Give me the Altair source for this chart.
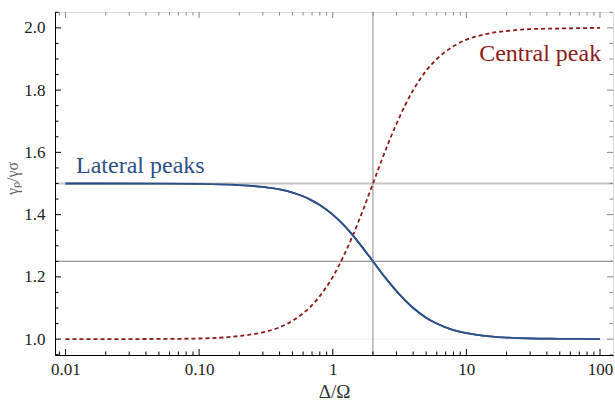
import altair as alt
import pandas as pd

# ---- data ----
x_vals = [0.01, 0.02, 0.05, 0.1, 0.2, 0.3, 0.4, 0.5, 0.6, 0.7, 0.8, 1.0, 1.2, 1.4, 1.7,
          2.0, 2.5, 3.0, 4.0, 5.0, 6.0, 8.0, 10, 12, 15, 20, 30, 50, 100]
lateral = [1.5, 1.5, 1.4997, 1.4988, 1.495, 1.489, 1.481, 1.471, 1.459, 1.445, 1.431,
           1.400, 1.368, 1.336, 1.290, 1.250, 1.195, 1.154, 1.100, 1.069, 1.050, 1.029,
           1.019, 1.0135, 1.009, 1.005, 1.002, 1.001, 1.000]
central = [1.0, 1.0001, 1.0006, 1.002, 1.010, 1.022, 1.038, 1.059, 1.083, 1.109, 1.138,
           1.200, 1.265, 1.329, 1.419, 1.500, 1.610, 1.692, 1.800, 1.862, 1.900, 1.941,
           1.962, 1.973, 1.983, 1.990, 1.996, 1.998, 2.000]

hlines_light = [1.5]
hlines_mid = [1.25]
hlines_faint = [1.0]
vlines = [2.0]

x_major = [0.01, 0.1, 1, 10, 100]
x_minor = [0.009] + [m * d for d in (0.01, 0.1, 1, 10) for m in range(2, 10)]
y_major = [1.0, 1.2, 1.4, 1.6, 1.8, 2.0]
y_minor = [0.95, 1.05, 1.1, 1.15, 1.25, 1.3, 1.35, 1.45, 1.5, 1.55, 1.65, 1.7, 1.75,
           1.85, 1.9, 1.95, 2.05]

labels = ["Lateral peaks", "Central peak"]
label_x = [0.0120, 102]
label_y = [1.534, 1.895]

BLUE = "#2E5089"
RED = "#8E1A1A"
FONT = "'Liberation Serif', 'Times New Roman', Times, serif"
W, H = 558, 343

xs = alt.Scale(type="log", domain=[0.00835, 125.1], nice=False)
ys = alt.Scale(domain=[0.949, 2.051], nice=False, zero=False)

df = pd.DataFrame({"x": x_vals, "lat": lateral, "cen": central})

x_axis = alt.Axis(values=x_major, ticks=False, grid=False, domainColor="black",
                  labelFont=FONT, labelFontSize=17, labelColor="#222", labelPadding=6,
                  labelExpr="datum.value < 1 ? format(datum.value, '.2f') : format(datum.value, 'd')",
                  title="Δ/Ω", titleFont=FONT, titleFontSize=19, titleFontWeight="normal",
                  titleColor="#333", titlePadding=5, zindex=2)
y_axis = alt.Axis(values=y_major, format=".1f", ticks=False, grid=False, domainColor="black",
                  labelFont=FONT, labelFontSize=17, labelColor="#222", labelPadding=10,
                  title="γₚ/γσ", titleFont=FONT, titleFontSize=16, titleFontWeight="normal",
                  titleColor="#666", titleAngle=-90, titleX=-43, titleY=166,
                  titleAlign="center", titleBaseline="middle", zindex=2)

base = alt.Chart(df)

lat_line = base.mark_line(color=BLUE, strokeWidth=1.8, interpolate="monotone").encode(
    x=alt.X("x:Q", scale=xs, axis=x_axis),
    y=alt.Y("lat:Q", scale=ys, axis=y_axis),
)
cen_line = base.mark_line(color=RED, strokeWidth=1.8, strokeDash=[4, 3],
                          interpolate="monotone").encode(
    x=alt.X("x:Q", scale=xs),
    y=alt.Y("cen:Q", scale=ys),
)


def hrule(vals, color, width):
    return alt.Chart(pd.DataFrame({"v": vals})).mark_rule(color=color, strokeWidth=width).encode(
        y=alt.Y("v:Q", scale=ys))


def vrule(vals, color, width):
    return alt.Chart(pd.DataFrame({"v": vals})).mark_rule(color=color, strokeWidth=width).encode(
        x=alt.X("v:Q", scale=xs))


refs = [
    hrule(hlines_faint, "#ececec", 1),
    hrule(hlines_light, "#c4c4c4", 1.8),
    hrule(hlines_mid, "#999999", 1.2),
    vrule(vlines, "#8a8a8a", 1),
]


def xticks(vals, length, top, color):
    y0 = 0 if top else H
    y1 = length if top else H - length
    return alt.Chart(pd.DataFrame({"v": vals})).mark_rule(color=color, strokeWidth=1).encode(
        x=alt.X("v:Q", scale=xs), y=alt.value(y0), y2=alt.value(y1))


def yticks(vals, length, right, color):
    x0 = W if right else 0
    x1 = W - length if right else length
    return alt.Chart(pd.DataFrame({"v": vals})).mark_rule(color=color, strokeWidth=1).encode(
        y=alt.Y("v:Q", scale=ys), x=alt.value(x0), x2=alt.value(x1))


ticks = [
    xticks(x_major, 6, False, "black"), xticks(x_minor, 3.5, False, "black"),
    xticks(x_major, 6, True, "#888"), xticks(x_minor, 3.5, True, "#888"),
    yticks(y_major, 6, False, "black"), yticks(y_minor, 3.5, False, "black"),
    yticks(y_major, 6, True, "#888"), yticks(y_minor, 3.5, True, "#888"),
]

lab_df = pd.DataFrame({"t": labels, "x": label_x, "y": label_y})
lat_text = alt.Chart(lab_df.iloc[[0]]).mark_text(
    font=FONT, fontSize=24, color=BLUE, align="left", baseline="alphabetic").encode(
    x=alt.X("x:Q", scale=xs), y=alt.Y("y:Q", scale=ys), text="t:N")
cen_text = alt.Chart(lab_df.iloc[[1]]).mark_text(
    font=FONT, fontSize=24, color=RED, align="right", baseline="alphabetic").encode(
    x=alt.X("x:Q", scale=xs), y=alt.Y("y:Q", scale=ys), text="t:N")

chart = alt.layer(
    lat_line, *refs, cen_line, lat_line, *ticks, lat_text, cen_text
).properties(
    width=W, height=H,
    autosize=alt.AutoSizeParams(type="none"),
    padding={"left": 55, "top": 12, "right": 2, "bottom": 52},
).configure_view(
    stroke="#999999", strokeWidth=1
).configure(background="white")

chart.save("out.html", embed_options={"renderer": "svg", "actions": False})
